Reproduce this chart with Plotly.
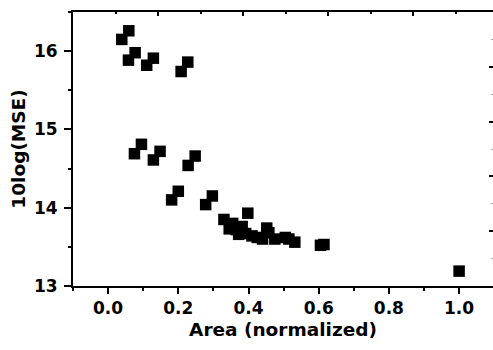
import plotly.graph_objects as go

# Data
area = [0.039, 0.059, 0.058, 0.077, 0.110, 0.129, 0.208, 0.227,
        0.075, 0.095, 0.129, 0.148, 0.228, 0.248,
        0.181, 0.200, 0.278, 0.297,
        0.330, 0.345, 0.355, 0.365, 0.372, 0.382, 0.392, 0.398, 0.410,
        0.425, 0.440, 0.452, 0.458, 0.475, 0.505, 0.515, 0.532,
        0.605, 0.615, 1.000]
mse_db = [16.15, 16.26, 15.885, 15.98, 15.82, 15.91, 15.74, 15.86,
          14.69, 14.81, 14.61, 14.72, 14.54, 14.66,
          14.10, 14.21, 14.04, 14.15,
          13.85, 13.73, 13.80, 13.72, 13.66, 13.76, 13.67, 13.93, 13.64,
          13.62, 13.60, 13.74, 13.68, 13.60, 13.62, 13.60, 13.56,
          13.52, 13.53, 13.19]

x_ticks = [0.0, 0.2, 0.4, 0.6, 0.8, 1.0]
x_tick_labels = ["0.0", "0.2", "0.4", "0.6", "0.8", "1.0"]
y_ticks = [13, 14, 15, 16]
y_tick_labels = ["13", "14", "15", "16"]

W, H = 493, 350
ML, MR, MT, MB = 73, 0, 12, 64
px_per_unit = 351.0
x_lo = -0.1
x_hi = x_lo + (W - ML - MR) / px_per_unit

tick_font = dict(family="DejaVu Sans, sans-serif", size=17, color="black", weight="bold")
title_font = dict(family="DejaVu Sans, sans-serif", size=18.5, color="black", weight="bold")

fig = go.Figure()
fig.add_trace(go.Scatter(
    x=area, y=mse_db, mode="markers",
    marker=dict(symbol="square", size=11.5, color="black", line=dict(width=0)),
    showlegend=False, hoverinfo="skip"))
# empty traces to create the decorative top/right axes
fig.add_trace(go.Scatter(x=[], y=[], xaxis="x2", yaxis="y", showlegend=False))
fig.add_trace(go.Scatter(x=[], y=[], xaxis="x", yaxis="y2", showlegend=False))

fig.update_layout(
    width=W, height=H,
    margin=dict(l=ML, r=MR, t=MT, b=MB, pad=0),
    paper_bgcolor="white", plot_bgcolor="white",
    font=tick_font,
    xaxis=dict(
        range=[x_lo, x_hi], tickmode="array", tickvals=x_ticks, ticktext=x_tick_labels,
        ticks="outside", ticklen=6, tickwidth=2, tickcolor="black",
        minor=dict(dtick=0.1, tick0=0, ticks="outside", ticklen=3, tickwidth=2, tickcolor="black"),
        showline=True, linewidth=2, linecolor="black", showgrid=False, zeroline=False,
        tickfont=tick_font, ticklabelstandoff=0,
        title=dict(text="Area (normalized)", font=title_font, standoff=6),
    ),
    yaxis=dict(
        range=[13, 16.5], tickmode="array", tickvals=y_ticks, ticktext=y_tick_labels,
        ticks="outside", ticklen=7, tickwidth=2, tickcolor="black",
        minor=dict(dtick=0.5, tick0=13, ticks="outside", ticklen=3, tickwidth=2, tickcolor="black"),
        showline=True, linewidth=2, linecolor="black", showgrid=False, zeroline=False,
        tickfont=tick_font, ticklabelstandoff=3,
        title=dict(text="10log(MSE)", font=title_font, standoff=3),
    ),
    xaxis2=dict(
        overlaying="x", side="top", anchor="y",
        range=[0, (W - ML - MR) / 85.0], dtick=1, tick0=0,
        ticks="inside", ticklen=4, tickwidth=2, tickcolor="black",
        minor=dict(dtick=0.5, tick0=0, ticks="inside", ticklen=2, tickwidth=2, tickcolor="black"),
        showline=True, linewidth=2, linecolor="black", showgrid=False, zeroline=False,
        showticklabels=False,
    ),
    yaxis2=dict(
        overlaying="y", side="right", anchor="x",
        range=[0, 5], dtick=1, tick0=0,
        ticks="inside", ticklen=4, tickwidth=2, tickcolor="black",
        minor=dict(dtick=0.5, tick0=0, ticks="inside", ticklen=2, tickwidth=1, tickcolor="#aaaaaa"),
        showline=False, showgrid=False, zeroline=False, showticklabels=False,
    ),
)

fig.write_html("out.html")
